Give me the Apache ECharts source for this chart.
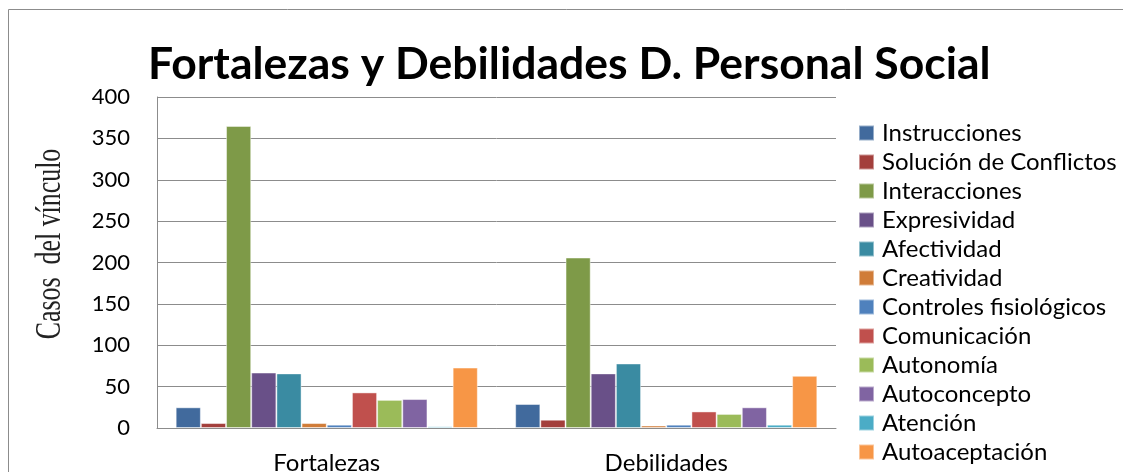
<!DOCTYPE html>
<html>
<head>
<meta charset="utf-8">
<script src="https://cdn.jsdelivr.net/npm/echarts@6/dist/echarts.min.js"></script>
<style>html,body{margin:0;padding:0;background:#fff}#c{width:1123px;height:472px}</style>
</head>
<body>
<div id="c"></div>
<script>
const categories = ['Fortalezas', 'Debilidades'];
const seriesNames = ['Instrucciones','Solución de Conflictos','Interacciones','Expresividad','Afectividad','Creatividad','Controles fisiológicos','Comunicación','Autonomía','Autoconcepto','Atención','Autoaceptación'];
const instrucciones = [25, 29];
const solucionConflictos = [6, 10];
const interacciones = [365, 206];
const expresividad = [67, 66];
const afectividad = [66, 78];
const creatividad = [6, 3];
const controlesFisiologicos = [4, 4];
const comunicacion = [43, 20];
const autonomia = [34, 17];
const autoconcepto = [35, 25];
const atencion = [2, 4];
const autoaceptacion = [73, 63];
const yTicks = [0, 50, 100, 150, 200, 250, 300, 350, 400];

const seriesValues = [instrucciones, solucionConflictos, interacciones, expresividad, afectividad, creatividad, controlesFisiologicos, comunicacion, autonomia, autoconcepto, atencion, autoaceptacion];
const colors = ['#416A9D','#A33F3C','#7E9A48','#695088','#3A8BA2','#D07C38','#4F81BD','#C0504D','#9BBB59','#8064A2','#4BACC6','#F79646'];
const FONT = 'Lato';

const chart = echarts.init(document.getElementById('c'));
chart.setOption({
  animation: false,
  color: colors,
  title: {
    text: 'Fortalezas y Debilidades D. Personal Social',
    left: 143,
    top: 37,
    textStyle: {fontFamily: FONT, fontWeight: 'bold', fontSize: 44.5, color: '#000'}
  },
  graphic: [
    {type: 'rect', silent: true, shape: {x: 8.5, y: 9.5, width: 1300, height: 700}, style: {fill: 'none', stroke: '#8c8c8c', lineWidth: 1}},
    {type: 'text', silent: true, x: 51, y: 244, rotation: Math.PI / 2, scaleX: 0.74, scaleY: 1,
     style: {text: 'Casos  del vínculo', font: '35px "Liberation Serif"', fill: '#222', align: 'center', verticalAlign: 'middle'}}
  ],
  legend: {
    orient: 'vertical',
    left: 858,
    top: 121,
    padding: 0,
    itemWidth: 15,
    itemHeight: 15,
    itemGap: 5,
    icon: 'rect',
    data: seriesNames,
    textStyle: {fontFamily: FONT, fontSize: 24, color: '#000', padding: [0, 0, 0, 3]}
  },
  grid: {left: 157, right: 287, top: 97, bottom: 44, containLabel: false, outerBoundsMode: 'none'},
  xAxis: {
    type: 'category',
    data: categories,
    axisLine: {lineStyle: {color: '#8c8c8c', width: 1}},
    axisTick: {show: false},
    axisLabel: {fontFamily: FONT, fontSize: 24, color: '#000', margin: 23}
  },
  yAxis: {
    type: 'value',
    min: 0, max: 400, interval: 50,
    axisLine: {show: true, lineStyle: {color: '#8c8c8c', width: 1}},
    axisTick: {show: false},
    splitLine: {lineStyle: {color: '#8c8c8c', width: 1}},
    axisLabel: {fontFamily: FONT, fontSize: 22, color: '#000', margin: 27,
      formatter: v => yTicks.includes(v) ? String(v) : ''}
  },
  series: seriesNames.map((name, i) => ({
    name: name,
    type: 'bar',
    data: seriesValues[i],
    barGap: '0%',
    barCategoryGap: '11%',
    itemStyle: {borderColor: 'rgba(255,255,255,0.45)', borderWidth: 1}
  }))
});
</script>
</body>
</html>
